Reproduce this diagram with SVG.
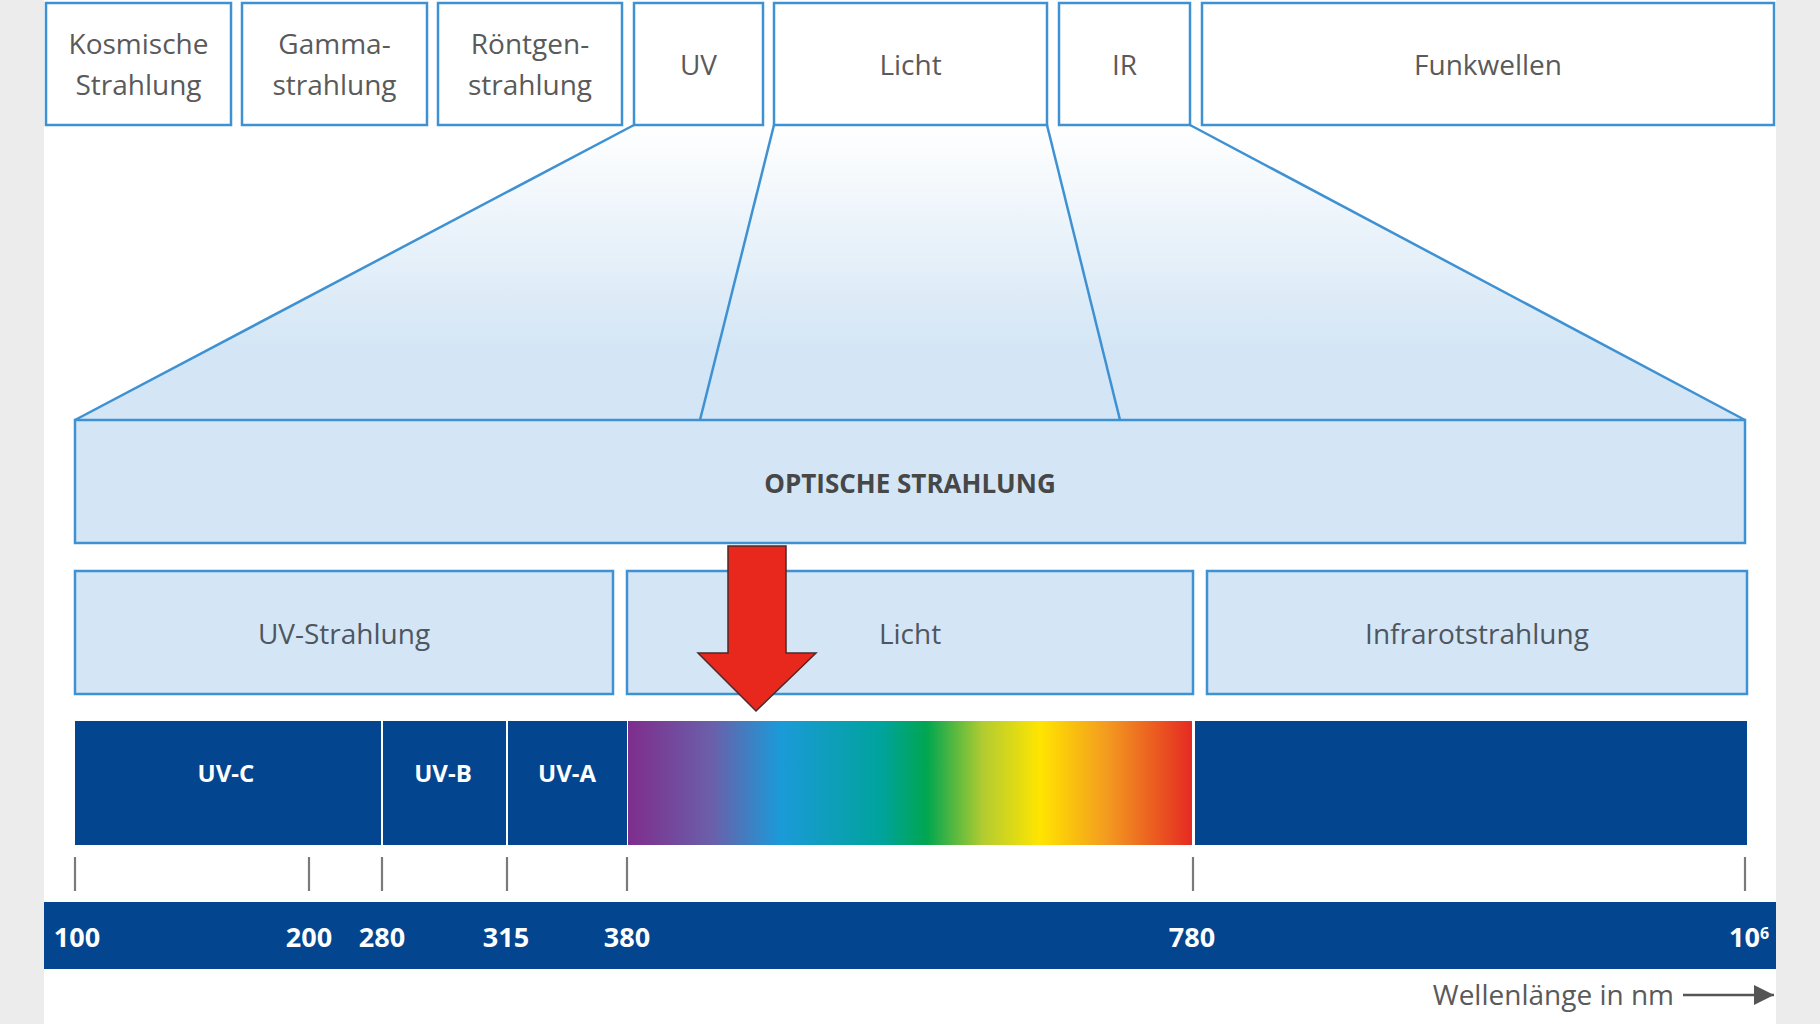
<svg xmlns="http://www.w3.org/2000/svg" width="1820" height="1024" viewBox="0 0 1820 1024">
<style>
.top{fill:#fff;stroke:#3e91d2;stroke-width:2.5}
.mid{fill:#d4e6f5;stroke:#3e91d2;stroke-width:2.5}
.lbl{font-family:"Open Sans","Liberation Sans",sans-serif;font-size:28px;fill:#5a5a5a;text-anchor:middle}
.lbl2{font-family:"Open Sans","Liberation Sans",sans-serif;font-size:28px;fill:#4e5660;text-anchor:middle}
.bold{font-family:"Open Sans","Liberation Sans",sans-serif;font-weight:bold;fill:#fff;text-anchor:middle}
.funnel{stroke:#3e91d2;stroke-width:2.5;fill:none}
.tick{stroke:#7a7a7a;stroke-width:2.2}
.dark{fill:#03458f}
</style>
<defs>
<linearGradient id="fade" x1="0" y1="0" x2="0" y2="1">
<stop offset="0" stop-color="#ffffff"/>
<stop offset="0.75" stop-color="#d4e6f5"/>
<stop offset="1" stop-color="#d4e6f5"/>
</linearGradient>
<linearGradient id="rainbow" x1="0" y1="0" x2="1" y2="0">
<stop offset="0" stop-color="#7f2d8c"/>
<stop offset="0.15" stop-color="#6a60aa"/>
<stop offset="0.27" stop-color="#1b9ad8"/>
<stop offset="0.45" stop-color="#00a39c"/>
<stop offset="0.53" stop-color="#00a650"/>
<stop offset="0.63" stop-color="#b3cc30"/>
<stop offset="0.73" stop-color="#ffe500"/>
<stop offset="0.85" stop-color="#f39a1f"/>
<stop offset="1" stop-color="#e52a22"/>
</linearGradient>
<marker id="ah" viewBox="0 0 10 10" refX="10" refY="5" markerWidth="8" markerHeight="8" orient="auto" markerUnits="strokeWidth">
<path d="M0,0 L10,5 L0,10 z" fill="#555"/>
</marker>
</defs>
<rect x="0" y="0" width="1820" height="1024" fill="#ececec"/>
<rect x="44" y="0" width="1732" height="1024" fill="#fff"/>
<polygon points="634,125 1190,125 1745,420 75,420" fill="url(#fade)"/>

<g id="connectors">
<line class="funnel" x1="634" y1="125" x2="75" y2="420"/>
<line class="funnel" x1="774" y1="125" x2="700" y2="420"/>
<line class="funnel" x1="1047" y1="125" x2="1120" y2="420"/>
<line class="funnel" x1="1190" y1="125" x2="1745" y2="420"/>
</g>

<g id="kosmisch"><rect class="top" x="46" y="3" width="185" height="122"/><text class="lbl" x="138.5" y="54">Kosmische</text><text class="lbl" x="138.5" y="95">Strahlung</text></g>
<g id="gamma"><rect class="top" x="242" y="3" width="185" height="122"/><text class="lbl" x="334.5" y="54">Gamma-</text><text class="lbl" x="334.5" y="95">strahlung</text></g>
<g id="roentgen"><rect class="top" x="438" y="3" width="184" height="122"/><text class="lbl" x="530" y="54">Röntgen-</text><text class="lbl" x="530" y="95">strahlung</text></g>
<g id="uv"><rect class="top" x="634" y="3" width="129" height="122"/><text class="lbl" x="698.5" y="75">UV</text></g>
<g id="licht-top"><rect class="top" x="774" y="3" width="273" height="122"/><text class="lbl" x="910.5" y="75">Licht</text></g>
<g id="ir"><rect class="top" x="1059" y="3" width="131" height="122"/><text class="lbl" x="1124.5" y="75">IR</text></g>
<g id="funk"><rect class="top" x="1202" y="3" width="572" height="122"/><text class="lbl" x="1488" y="75">Funkwellen</text></g>

<g id="optisch"><rect class="mid" x="75" y="420" width="1670" height="123"/><text x="910" y="493" text-anchor="middle" font-family="'Open Sans','Liberation Sans',sans-serif" font-weight="bold" font-size="26" fill="#474747">OPTISCHE STRAHLUNG</text></g>

<g id="uvstrahlung"><rect class="mid" x="75" y="571" width="538" height="123"/><text class="lbl2" x="344" y="644">UV-Strahlung</text></g>
<g id="licht-mid"><rect class="mid" x="627" y="571" width="566" height="123"/><text class="lbl2" x="910" y="644">Licht</text></g>
<g id="infrarot"><rect class="mid" x="1207" y="571" width="540" height="123"/><text class="lbl2" x="1477" y="644">Infrarotstrahlung</text></g>

<g id="spectrum">
<rect class="dark" x="75" y="721" width="306" height="124"/>
<rect class="dark" x="383" y="721" width="123" height="124"/>
<rect class="dark" x="508" y="721" width="119" height="124"/>
<rect x="628" y="721" width="564" height="124" fill="url(#rainbow)"/>
<rect class="dark" x="1195" y="721" width="552" height="124"/>
<text class="bold" x="226" y="782" font-size="24">UV-C</text>
<text class="bold" x="443" y="782" font-size="24">UV-B</text>
<text class="bold" x="567" y="782" font-size="24">UV-A</text>
</g>

<g id="ticks">
<line class="tick" x1="75" y1="857" x2="75" y2="891"/>
<line class="tick" x1="309" y1="857" x2="309" y2="891"/>
<line class="tick" x1="382" y1="857" x2="382" y2="891"/>
<line class="tick" x1="507" y1="857" x2="507" y2="891"/>
<line class="tick" x1="627" y1="857" x2="627" y2="891"/>
<line class="tick" x1="1193" y1="857" x2="1193" y2="891"/>
<line class="tick" x1="1745" y1="857" x2="1745" y2="891"/>
</g>

<g id="axis">
<rect class="dark" x="44" y="902" width="1732" height="67"/>
<text class="bold" x="77" y="947" font-size="27">100</text>
<text class="bold" x="309" y="947" font-size="27">200</text>
<text class="bold" x="382" y="947" font-size="27">280</text>
<text class="bold" x="506" y="947" font-size="27">315</text>
<text class="bold" x="627" y="947" font-size="27">380</text>
<text class="bold" x="1192" y="947" font-size="27">780</text>
<text x="1729" y="947" font-size="27" font-family="'Open Sans','Liberation Sans',sans-serif" font-weight="bold" fill="#fff">10<tspan font-size="16" dy="-8">6</tspan></text>
</g>

<g id="wavelength">
<text x="1674" y="1005" text-anchor="end" font-family="'Open Sans','Liberation Sans',sans-serif" font-size="28" fill="#5a5a5a">Wellenlänge in nm</text>
<line x1="1683" y1="995" x2="1774" y2="995" stroke="#555" stroke-width="2.5" marker-end="url(#ah)"/>
</g>

<g id="red-arrow">
<polygon points="728,546 786,546 786,653 816,653 756,711 698,653 728,653" fill="#e8281c" stroke="#4a2a2a" stroke-width="1.5"/>
</g>
</svg>
